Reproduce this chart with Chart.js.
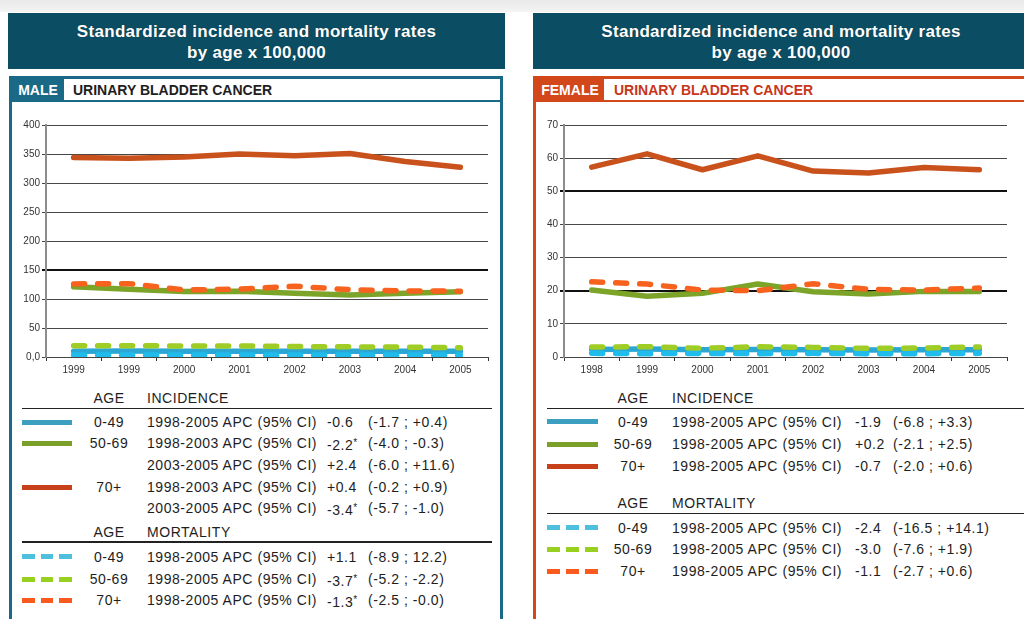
<!DOCTYPE html>
<html>
<head>
<meta charset="utf-8">
<script src="https://cdn.jsdelivr.net/npm/chart.js@4/dist/chart.umd.min.js"></script>
<style>
  html, body { margin: 0; padding: 0; }
  body { width: 1024px; height: 619px; overflow: hidden; background: #fff; position: relative;
         font-family: "Liberation Sans", Arial, Helvetica, sans-serif; color: #222; }
  .abs { position: absolute; }
  .strip { left: 0; top: 0; width: 1024px; height: 12px; background: linear-gradient(#e9e9e9, #f4f4f4); }
  .band { top: 13px; height: 56px; background: #0b4e63; color: #fff; font-weight: bold; font-size: 17px;
          line-height: 21px; text-align: center; padding-top: 8px; box-sizing: border-box; letter-spacing: 0.3px;
          text-shadow: 0 0 1px #062f3c; }
  .panel { top: 76px; height: 600px; box-sizing: border-box; border: 3px solid; }
  .tag { top: 79px; height: 21px; color: #fff; font-weight: bold; font-size: 14px; line-height: 22px; text-align: center; }
  .title { top: 79px; height: 21px; font-weight: bold; font-size: 14px; line-height: 22px; }
  .rule { height: 2px; }
  .lg { font-size: 14px; line-height: 16px; white-space: nowrap; letter-spacing: 0.55px; color: #1e1e1e; }
  .sw { height: 5px; }
  .ast { font-size: 10px; vertical-align: 4px; }
</style>
</head>
<body>
<div class="abs strip"></div>

<div class="abs band" style="left:8px;width:497px;">Standardized incidence and mortality rates<br>by age x 100,000</div>
<div class="abs band" style="left:533px;width:496px;">Standardized incidence and mortality rates<br>by age x 100,000</div>

<div class="abs panel" style="left:9px;width:494px;border-color:#1a6a87;"></div>
<div class="abs tag" style="left:12px;width:52px;background:#1a6a87;">MALE</div>
<div class="abs title" style="left:73px;color:#1e1e1e;">URINARY BLADDER CANCER</div>
<div class="abs rule" style="left:12px;top:100px;width:488px;background:#1a6a87;"></div>

<div class="abs panel" style="left:533px;width:600px;border-color:#d2481b;"></div>
<div class="abs tag" style="left:536px;width:68px;background:#d2481b;">FEMALE</div>
<div class="abs title" style="left:614px;color:#c8361a;">URINARY BLADDER CANCER</div>
<div class="abs rule" style="left:536px;top:100px;width:488px;background:#d2481b;"></div>

<div class="abs" style="left:12px;top:105px;"><canvas id="maleChart" width="486" height="275"></canvas></div>
<div class="abs" style="left:537px;top:105px;"><canvas id="femaleChart" width="480" height="275"></canvas></div>

<div id="legends"></div>

<script>
// ---- categories and tick labels ----
const years = ['1998', '1999', '2000', '2001', '2002', '2003', '2004', '2005'];
const maleYearLabels = ['1999', '1999', '2000', '2001', '2002', '2003', '2004', '2005'];
const femaleYearLabels = ['1998', '1999', '2000', '2001', '2002', '2003', '2004', '2005'];
const maleYTicks = [0, 50, 100, 150, 200, 250, 300, 350, 400];
const femaleYTicks = [0, 10, 20, 30, 40, 50, 60, 70];

// ---- male rates x 100,000 ----
const maleInc0049 = [10.0, 10.2, 9.8, 10.0, 9.9, 9.7, 9.8, 9.8];
const maleInc5069 = [121, 117, 113, 113.5, 110, 107, 110, 112.5];
const maleInc70 = [344, 342.5, 345, 350, 347, 351, 337, 327];
const maleMort0049 = [3.4, 3.5, 3.3, 3.5, 3.4, 3.3, 3.4, 3.3];
const maleMort5069 = [19.5, 19.5, 19, 19, 18, 17.5, 17, 16];
const maleMort70 = [126, 126.5, 115.5, 117, 122, 116, 114, 113.5];

// ---- female rates x 100,000 ----
const femaleInc0049 = [2.3, 2.4, 2.2, 2.3, 2.2, 2.1, 2.2, 2.2];
const femaleInc5069 = [20.2, 18.3, 19.2, 22.0, 19.7, 19.0, 19.8, 19.8];
const femaleInc70 = [57.3, 61.3, 56.5, 60.7, 56.1, 55.5, 57.2, 56.5];
const femaleMort0049 = [1.1, 1.0, 1.1, 1.0, 1.1, 1.0, 1.0, 1.1];
const femaleMort5069 = [3.0, 3.1, 2.6, 3.1, 2.9, 2.6, 2.7, 3.0];
const femaleMort70 = [22.7, 22.0, 20.2, 20.0, 22.1, 20.4, 20.2, 20.8];

// ---- APC table (legend) ----
const maleIncAge = ['0-49', '50-69', '', '70+', ''];
const maleIncPeriod = ['1998-2005', '1998-2003', '2003-2005', '1998-2003', '2003-2005'];
const maleIncApc = ['-0.6', '-2.2*', '+2.4', '+0.4', '-3.4*'];
const maleIncCi = ['(-1.7 ; +0.4)', '(-4.0 ; -0.3)', '(-6.0 ; +11.6)', '(-0.2 ; +0.9)', '(-5.7 ; -1.0)'];
const maleIncKey = ['inc0049', 'inc5069', null, 'inc70', null];
const maleMortAge = ['0-49', '50-69', '70+'];
const maleMortPeriod = ['1998-2005', '1998-2005', '1998-2005'];
const maleMortApc = ['+1.1', '-3.7*', '-1.3*'];
const maleMortCi = ['(-8.9 ; 12.2)', '(-5.2 ; -2.2)', '(-2.5 ; -0.0)'];

const femaleIncAge = ['0-49', '50-69', '70+'];
const femaleIncPeriod = ['1998-2005', '1998-2005', '1998-2005'];
const femaleIncApc = ['-1.9', '+0.2', '-0.7'];
const femaleIncCi = ['(-6.8 ; +3.3)', '(-2.1 ; +2.5)', '(-2.0 ; +0.6)'];
const femaleIncKey = ['inc0049', 'inc5069', 'inc70'];
const femaleMortAge = ['0-49', '50-69', '70+'];
const femaleMortPeriod = ['1998-2005', '1998-2005', '1998-2005'];
const femaleMortApc = ['-2.4', '-3.0', '-1.1'];
const femaleMortCi = ['(-16.5 ; +14.1)', '(-7.6 ; +1.9)', '(-2.7 ; +0.6)'];
const mortKey = ['mort0049', 'mort5069', 'mort70'];

// ---- series colours ----
const colors = {
  inc0049: '#2ba7d4', inc5069: '#7ba428', inc70: '#c9521c',
  mort0049: '#1fbcec', mort5069: '#9fcd26', mort70: '#f7621f'
};
const swatchColors = {
  inc0049: '#3c9fbf', inc5069: '#7ba02a', inc70: '#c8401a',
  mort0049: '#4ec0de', mort5069: '#99cf1e', mort70: '#fb5a1e'
};

Chart.defaults.font.family = '"Liberation Sans", Arial, sans-serif';
Chart.defaults.color = '#333';

function solid(data, key) {
  return { data, borderColor: colors[key], borderWidth: 5.5, pointRadius: 0, tension: 0,
           borderJoinStyle: 'round', borderCapStyle: 'round', order: 2 };
}
function dashed(data, key) {
  return { data, borderColor: colors[key], borderWidth: 5.5, pointRadius: 0, tension: 0,
           borderDash: [11, 13], borderCapStyle: 'round', order: 1 };
}

function makeChart(id, labels, series, yTicks, boldLines, zeroLabel, yWidth, padTop, padRight) {
  const yMax = yTicks[yTicks.length - 1];
  const step = yTicks[1] - yTicks[0];
  return new Chart(document.getElementById(id), {
    type: 'line',
    data: {
      labels: years,
      datasets: [
        dashed(series.mort0049, 'mort0049'),
        dashed(series.mort5069, 'mort5069'),
        dashed(series.mort70, 'mort70'),
        solid(series.inc0049, 'inc0049'),
        solid(series.inc5069, 'inc5069'),
        solid(series.inc70, 'inc70')
      ]
    },
    options: {
      responsive: false,
      devicePixelRatio: 1,
      animation: false,
      layout: { padding: { top: padTop, right: padRight, left: 0, bottom: 0 } },
      plugins: { legend: { display: false }, tooltip: { enabled: false } },
      scales: {
        x: {
          offset: true,
          afterFit: s => { s.height = 23; },
          grid: { offset: true, drawOnChartArea: false, drawTicks: true, tickLength: 4, color: '#333', lineWidth: 1 },
          border: { display: true, color: '#444', width: 1 },
          ticks: { padding: 3, font: { size: 10 }, color: '#333', autoSkip: false, maxRotation: 0,
                   callback: (v, i) => labels[i] }
        },
        y: {
          min: 0, max: yMax,
          afterFit: s => { s.width = yWidth; },
          afterBuildTicks: s => { s.ticks = yTicks.map(v => ({ value: v })); },
          grid: {
            tickLength: 4,
            color: c => boldLines.includes(c.tick.value) ? '#111' : '#474747',
            lineWidth: c => boldLines.includes(c.tick.value) ? 2 : 1
          },
          border: { display: true, color: '#8c8c8c', width: 2 },
          ticks: { stepSize: step, padding: 2, font: { size: 10 }, color: '#333',
                   callback: v => (v === 0 ? zeroLabel : String(v)) }
        }
      }
    }
  });
}

makeChart('maleChart', maleYearLabels, {
  inc0049: maleInc0049, inc5069: maleInc5069, inc70: maleInc70,
  mort0049: maleMort0049, mort5069: maleMort5069, mort70: maleMort70
}, maleYTicks, [150], '0,0', 34, 20, 10);

makeChart('femaleChart', femaleYearLabels, {
  inc0049: femaleInc0049, inc5069: femaleInc5069, inc70: femaleInc70,
  mort0049: femaleMort0049, mort5069: femaleMort5069, mort70: femaleMort70
}, femaleYTicks, [20, 50], '0', 27, 20, 10);

// ---- APC tables under each chart ----
const host = document.getElementById('legends');
function put(html, left, cy, extra) {
  const d = document.createElement('div');
  d.className = 'abs lg';
  d.style.left = left + 'px';
  d.style.top = (cy - 8) + 'px';
  if (extra) Object.assign(d.style, extra);
  d.innerHTML = html;
  host.appendChild(d);
  return d;
}
function fmtApc(s) { return s.replace('*', '<span class="ast">*</span>'); }
function swatch(key, x0, x1, cy, isDashed) {
  const c = swatchColors[key];
  if (!isDashed) {
    const d = document.createElement('div');
    d.className = 'abs sw';
    Object.assign(d.style, { left: x0 + 'px', width: (x1 - x0) + 'px', top: (cy - 2.5) + 'px', background: c });
    host.appendChild(d);
  } else {
    const w = (x1 - x0 - 12) / 3;
    for (let k = 0; k < 3; k++) {
      const d = document.createElement('div');
      d.className = 'abs sw';
      Object.assign(d.style, { left: (x0 + k * (w + 6)) + 'px', width: w + 'px', top: (cy - 2.5) + 'px', background: c });
      host.appendChild(d);
    }
  }
}
function rule(x0, x1, y) {
  const d = document.createElement('div');
  d.className = 'abs';
  Object.assign(d.style, { left: x0 + 'px', width: (x1 - x0) + 'px', top: y + 'px', height: '1.5px', background: '#222' });
  host.appendChild(d);
}
function table(cfg, inc, mort) {
  const ageCol = (txt, cy) => put(txt, cfg.ageX - 30, cy, { width: '60px', textAlign: 'center' });
  ageCol('AGE', cfg.incHeadY); put('INCIDENCE', cfg.descX, cfg.incHeadY);
  rule(cfg.sw0, cfg.ruleEnd, cfg.incRuleY);
  inc.age.forEach((a, i) => {
    const cy = cfg.incRows[i];
    if (inc.key[i]) swatch(inc.key[i], cfg.sw0, cfg.sw1, cy, false);
    if (a) ageCol(a, cy);
    put(inc.period[i] + ' APC (95% CI)', cfg.descX, cy);
    put(fmtApc(inc.apc[i]), cfg.apcX, cy);
    put(inc.ci[i], cfg.ciX, cy);
  });
  ageCol('AGE', cfg.mortHeadY); put('MORTALITY', cfg.descX, cfg.mortHeadY);
  rule(cfg.sw0, cfg.ruleEnd, cfg.mortRuleY);
  mort.age.forEach((a, i) => {
    const cy = cfg.mortRows[i];
    swatch(mortKey[i], cfg.sw0, cfg.sw1, cy, true);
    ageCol(a, cy);
    put(mort.period[i] + ' APC (95% CI)', cfg.descX, cy);
    put(fmtApc(mort.apc[i]), cfg.apcX, cy);
    put(mort.ci[i], cfg.ciX, cy);
  });
}

table({ sw0: 22, sw1: 72, ageX: 109, descX: 147, apcX: 327, ciX: 368, ruleEnd: 492,
        incHeadY: 398, incRuleY: 407.5, incRows: [422, 443.3, 465, 487.3, 508.3],
        mortHeadY: 531.7, mortRuleY: 541, mortRows: [556.7, 579, 600] },
      { age: maleIncAge, period: maleIncPeriod, apc: maleIncApc, ci: maleIncCi, key: maleIncKey },
      { age: maleMortAge, period: maleMortPeriod, apc: maleMortApc, ci: maleMortCi });

table({ sw0: 547, sw1: 598, ageX: 633, descX: 672, apcX: 855, ciX: 893, ruleEnd: 1024,
        incHeadY: 398, incRuleY: 407.5, incRows: [421.7, 444.3, 466],
        mortHeadY: 503.3, mortRuleY: 512.5, mortRows: [527.7, 549, 571] },
      { age: femaleIncAge, period: femaleIncPeriod, apc: femaleIncApc, ci: femaleIncCi, key: femaleIncKey },
      { age: femaleMortAge, period: femaleMortPeriod, apc: femaleMortApc, ci: femaleMortCi });
</script>
</body>
</html>
